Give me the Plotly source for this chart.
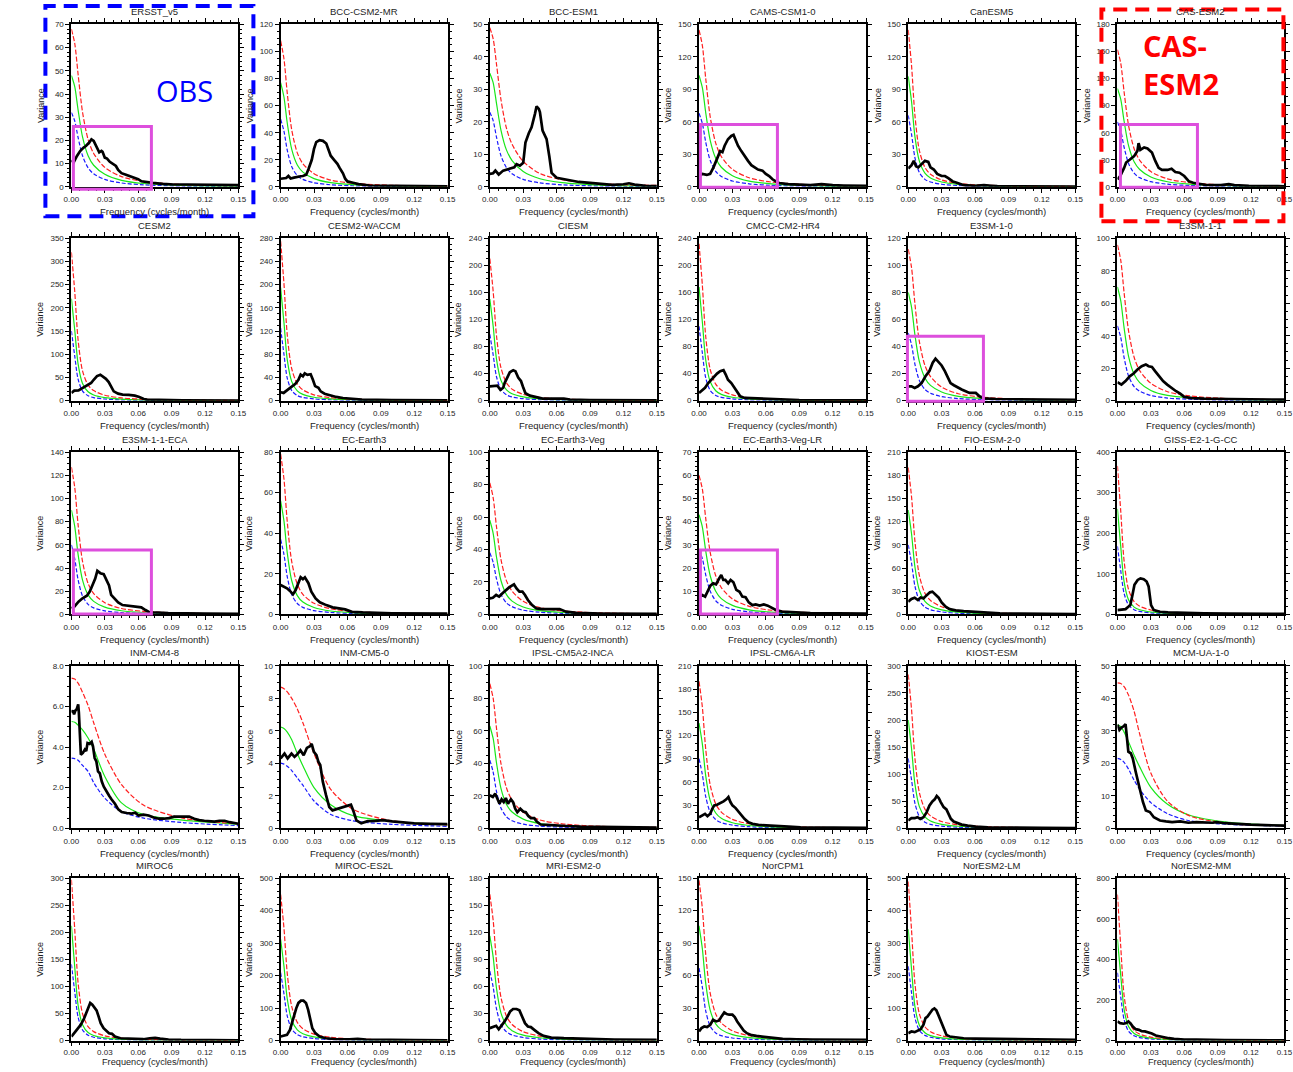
import plotly.graph_objects as go

W, H = 1293, 1072
# the page shows the figure with a small inset: page = offset + scale * figure pixel
OX, SX = 7.6, 0.9876
OY, SY = 4.5, 0.9925

# frequency grid (cycles/month) for the red-noise reference curves
FREQ_GRID = [0, 0.003, 0.006, 0.01, 0.015, 0.02, 0.03, 0.045, 0.065, 0.1, 0.15]

MODELS = [
    "ERSST_v5", "BCC-CSM2-MR", "BCC-ESM1", "CAMS-CSM1-0", "CanESM5", "CAS-ESM2",
    "CESM2", "CESM2-WACCM", "CIESM", "CMCC-CM2-HR4", "E3SM-1-0", "E3SM-1-1",
    "E3SM-1-1-ECA", "EC-Earth3", "EC-Earth3-Veg", "EC-Earth3-Veg-LR", "FIO-ESM-2-0", "GISS-E2-1-G-CC",
    "INM-CM4-8", "INM-CM5-0", "IPSL-CM5A2-INCA", "IPSL-CM6A-LR", "KIOST-ESM", "MCM-UA-1-0",
    "MIROC6", "MIROC-ES2L", "MRI-ESM2-0", "NorCPM1", "NorESM2-LM", "NorESM2-MM",
]
Y_MAX = [70, 120, 50, 150, 150, 180,
         350, 280, 240, 240, 120, 100,
         140, 80, 100, 70, 210, 400,
         8, 10, 100, 210, 300, 50,
         300, 500, 180, 150, 500, 800]
Y_STEP = [10, 20, 10, 30, 30, 30,
          50, 40, 40, 40, 20, 20,
          20, 20, 20, 10, 30, 100,
          2, 2, 20, 30, 50, 10,
          50, 100, 30, 30, 100, 200]
X_TICKS = [0.0, 0.03, 0.06, 0.09, 0.12, 0.15]

# ---- spectra (frequency, variance) and red-noise curves (red / green / blue) ----
SPEC_ERSST_V5 = [(0, 11.5), (0.002, 10.5), (0.005, 13.3), (0.008, 15.5), (0.011, 16.9), (0.013, 17.6), (0.016, 19.1), (0.018, 20.5), (0.02, 19.8), (0.022, 17.6), (0.025, 14.9), (0.027, 15.5), (0.028, 15.1), (0.03, 12.6), (0.032, 12.2), (0.0345, 10.8), (0.037, 9.9), (0.04, 9), (0.042, 7.3), (0.045, 5.9), (0.049, 5.2), (0.054, 4.4), (0.057, 4), (0.06, 3.3), (0.063, 2.4), (0.067, 2), (0.073, 1.7), (0.082, 1.3), (0.092, 1), (0.104, 1), (0.116, 0.86), (0.131, 0.72), (0.15, 0.7)]
RED_ERSST_V5 = [68, 61.8, 48.6, 32.2, 20.4, 14.4, 8.4, 4.4, 2.3, 0.97, 0.44]
GRN_ERSST_V5 = [48, 43.2, 33.2, 21.5, 13.4, 9.3, 5.4, 2.8, 1.44, 0.61, 0.28]
BLU_ERSST_V5 = [32, 28.4, 21.3, 13.4, 8.2, 5.6, 3.2, 1.66, 0.86, 0.37, 0.16]

SPEC_BCC_CSM2_MR = [(0, 6), (0.003, 6.3), (0.005, 6.5), (0.007, 8), (0.009, 6.2), (0.012, 6.8), (0.015, 7.5), (0.018, 7.8), (0.02, 8), (0.023, 9), (0.025, 13), (0.028, 20), (0.03, 28), (0.032, 33), (0.035, 34.5), (0.038, 34), (0.041, 32), (0.043, 28), (0.045, 23), (0.048, 20), (0.051, 17), (0.053, 14), (0.056, 10), (0.058, 6), (0.06, 4), (0.065, 3), (0.07, 2), (0.08, 1), (0.1, 0.7), (0.12, 0.5), (0.15, 0.4)]
RED_BCC_CSM2_MR = [108, 94.7, 69.1, 42.1, 25.1, 17.1, 9.7, 5.0, 2.6, 1.1, 0.49]
GRN_BCC_CSM2_MR = [77, 66.4, 47, 27.7, 16.2, 10.9, 6.1, 3.1, 1.6, 0.69, 0.31]
BLU_BCC_CSM2_MR = [50, 41.2, 27, 14.9, 8.3, 5.5, 3.0, 1.5, 0.79, 0.34, 0.15]

SPEC_BCC_ESM1 = [(0, 4), (0.003, 4.2), (0.005, 5), (0.008, 3.8), (0.012, 5), (0.018, 5.5), (0.022, 6), (0.024, 7), (0.027, 6.5), (0.03, 7.4), (0.032, 13.6), (0.035, 16.5), (0.0375, 18.3), (0.0405, 22.4), (0.042, 24.8), (0.044, 24), (0.045, 23), (0.0474, 17.3), (0.051, 14.7), (0.0534, 9.5), (0.0555, 4.3), (0.06, 2.8), (0.065, 2.5), (0.07, 2.2), (0.08, 1.5), (0.09, 1.2), (0.1, 0.8), (0.11, 0.6), (0.12, 0.8), (0.125, 1.1), (0.13, 0.7), (0.14, 0.3), (0.15, 0.2)]
RED_BCC_ESM1 = [49, 45.6, 37.8, 26.9, 18, 13.1, 7.8, 4.1, 2.2, 0.94, 0.42]
GRN_BCC_ESM1 = [35, 32.1, 25.7, 17.5, 11.3, 8.1, 4.7, 2.5, 1.3, 0.55, 0.25]
BLU_BCC_ESM1 = [23, 20.4, 15.3, 9.6, 5.9, 4.0, 2.3, 1.2, 0.62, 0.26, 0.12]

SPEC_CAMS_CSM1_0 = [(0, 10), (0.003, 12), (0.007, 11), (0.01, 12), (0.013, 18), (0.016, 26), (0.019, 33), (0.021, 32), (0.023, 38), (0.026, 44), (0.029, 47), (0.031, 48), (0.033, 42), (0.035, 38), (0.038, 33), (0.041, 28), (0.044, 24), (0.047, 20), (0.05, 18), (0.053, 16), (0.057, 15), (0.06, 12), (0.063, 10), (0.066, 7), (0.069, 5), (0.072, 3.5), (0.08, 2.5), (0.09, 2), (0.1, 1.5), (0.11, 2.5), (0.12, 1.5), (0.13, 1.2), (0.15, 1)]
RED_CAMS_CSM1_0 = [145, 130.5, 100.3, 65, 40.4, 28, 16.2, 8.4, 4.4, 1.9, 0.84]
GRN_CAMS_CSM1_0 = [103, 91.6, 68.7, 43.2, 26.3, 18.1, 10.3, 5.3, 2.8, 1.2, 0.53]
BLU_CAMS_CSM1_0 = [68, 58.6, 41.5, 24.5, 14.3, 9.6, 5.4, 2.8, 1.4, 0.61, 0.27]

SPEC_CANESM5 = [(0, 17), (0.003, 20), (0.005, 24), (0.007, 19), (0.009, 18), (0.012, 21), (0.015, 24), (0.018, 23), (0.02, 18), (0.023, 16), (0.026, 12), (0.03, 10), (0.033, 10), (0.036, 8), (0.04, 5), (0.043, 4), (0.047, 2.5), (0.05, 1.5), (0.06, 1), (0.068, 1.5), (0.075, 1), (0.08, 0.7), (0.1, 0.5), (0.15, 0.3)]
RED_CANESM5 = [145, 111.8, 66.3, 33.6, 18, 11.7, 6.4, 3.2, 1.65, 0.7, 0.3]
GRN_CANESM5 = [102, 78.6, 46.6, 23.7, 12.7, 8.2, 4.5, 2.3, 1.16, 0.49, 0.21]
BLU_CANESM5 = [66, 48.5, 27.1, 13.2, 6.9, 4.5, 2.4, 1.2, 0.62, 0.26, 0.12]

SPEC_CAS_ESM2 = [(0, 8.2), (0.0025, 12), (0.006, 21), (0.0078, 27), (0.011, 30), (0.015, 34), (0.018, 40), (0.019, 48.5), (0.0206, 41), (0.024, 43.7), (0.027, 42.6), (0.031, 38), (0.034, 28.7), (0.037, 21), (0.04, 18.7), (0.045, 18.7), (0.0486, 20), (0.052, 16.4), (0.0557, 15.7), (0.06, 12), (0.064, 6.3), (0.068, 4.5), (0.073, 3.4), (0.079, 2.2), (0.093, 1.9), (0.1, 3), (0.105, 1.9), (0.118, 1.1), (0.144, 0.7), (0.15, 0.6)]
RED_CAS_ESM2 = [152, 136.8, 105.2, 68.1, 42.3, 29.4, 16.9, 8.8, 4.6, 1.9, 0.88]
GRN_CAS_ESM2 = [109, 96.9, 72.7, 45.7, 27.8, 19.2, 10.9, 5.6, 2.9, 1.25, 0.56]
BLU_CAS_ESM2 = [72, 62.1, 43.9, 25.9, 15.1, 10.2, 5.7, 2.9, 1.5, 0.65, 0.29]

SPEC_CESM2 = [(0, 16.6), (0.0026, 21.6), (0.0064, 22), (0.01, 27), (0.014, 31), (0.0177, 38), (0.02, 45), (0.023, 53), (0.026, 56), (0.028, 53), (0.031, 47), (0.0335, 40), (0.036, 30), (0.038, 20), (0.042, 15), (0.046, 13), (0.0515, 12.3), (0.057, 10.8), (0.061, 8), (0.065, 3.6), (0.068, 2.2), (0.08, 1), (0.1, 0.6), (0.15, 0.3)]
RED_CESM2 = [320, 235.2, 131.2, 64, 33.6, 21.6, 11.7, 5.9, 3.0, 1.28, 0.58]
GRN_CESM2 = [220, 152.2, 79.2, 37, 19.1, 12.2, 6.5, 3.3, 1.7, 0.7, 0.31]
BLU_CESM2 = [150, 96, 46.2, 20.7, 10.5, 6.6, 3.5, 1.8, 0.92, 0.39, 0.17]

SPEC_CESM2_WACCM = [(0, 14.4), (0.0027, 13.3), (0.0065, 19), (0.01, 25), (0.0133, 29), (0.016, 36), (0.018, 45), (0.02, 42), (0.0217, 47), (0.024, 44.5), (0.027, 45.6), (0.029, 36), (0.031, 25), (0.034, 22), (0.036, 16), (0.0395, 12), (0.0445, 9), (0.05, 6.4), (0.056, 4.6), (0.06, 4), (0.065, 2.9), (0.073, 1.7), (0.1, 0.8), (0.15, 0.5)]
RED_CESM2_WACCM = [275, 202.1, 112.8, 55, 28.9, 18.6, 10, 5, 2.6, 1.1, 0.5]
GRN_CESM2_WACCM = [195, 134.9, 70.2, 32.8, 16.9, 10.8, 5.8, 2.9, 1.5, 0.62, 0.27]
BLU_CESM2_WACCM = [125, 80, 38.5, 17.3, 8.7, 5.5, 3.0, 1.5, 0.76, 0.33, 0.14]

SPEC_CIESM = [(0, 21), (0.0038, 21), (0.0068, 22), (0.0095, 16), (0.012, 19), (0.0133, 26), (0.016, 36), (0.018, 42), (0.021, 45), (0.023, 43.5), (0.0255, 34), (0.028, 29), (0.0297, 21), (0.032, 11), (0.036, 7.4), (0.042, 5), (0.0475, 3), (0.055, 3), (0.061, 3.5), (0.0665, 3), (0.072, 1.5), (0.09, 0.8), (0.15, 0.4)]
RED_CIESM = [210, 161.9, 96, 48.7, 26.1, 17, 9.2, 4.6, 2.4, 1.0, 0.44]
GRN_CIESM = [150, 110.3, 61.5, 30, 15.8, 10.1, 5.5, 2.7, 1.4, 0.6, 0.27]
BLU_CIESM = [98, 67.8, 35.3, 16.5, 8.5, 5.4, 2.9, 1.5, 0.75, 0.31, 0.14]

SPEC_CMCC_CM2_HR4 = [(0, 11.4), (0.0029, 15), (0.0054, 19), (0.0083, 26), (0.0112, 31), (0.0137, 36), (0.0162, 40), (0.019, 43.5), (0.022, 45), (0.024, 38.6), (0.026, 31), (0.029, 26), (0.032, 19), (0.0347, 11.4), (0.037, 6.4), (0.041, 4), (0.048, 3.5), (0.055, 3.5), (0.0625, 3), (0.07, 2), (0.09, 0.8), (0.15, 0.4)]
RED_CMCC_CM2_HR4 = [232, 170.5, 95.1, 46.4, 24.4, 15.7, 8.5, 4.2, 2.2, 0.93, 0.42]
GRN_CMCC_CM2_HR4 = [168, 116.3, 60.5, 28.2, 14.6, 9.3, 5.0, 2.5, 1.3, 0.54, 0.24]
BLU_CMCC_CM2_HR4 = [110, 70.4, 33.9, 15.2, 7.7, 4.9, 2.6, 1.3, 0.67, 0.29, 0.12]

SPEC_E3SM_1_0 = [(0, 10.6), (0.0029, 10.6), (0.0058, 9.4), (0.0087, 10.6), (0.012, 13), (0.0155, 18), (0.019, 21.8), (0.022, 28), (0.0245, 31), (0.0274, 28), (0.03, 26), (0.0329, 21.8), (0.0354, 18), (0.038, 13), (0.041, 11.4), (0.044, 9.9), (0.048, 8.2), (0.0516, 6.9), (0.055, 5.7), (0.0607, 5.7), (0.064, 3.2), (0.068, 1.7), (0.079, 1.2), (0.1, 1), (0.12, 0.7), (0.15, 0.5)]
RED_E3SM_1_0 = [112, 98.2, 71.7, 43.7, 26, 17.8, 10, 5.1, 2.7, 1.14, 0.5]
GRN_E3SM_1_0 = [80, 69, 48.8, 28.8, 16.8, 11.3, 6.4, 3.2, 1.7, 0.72, 0.32]
BLU_E3SM_1_0 = [50, 41.2, 27, 14.9, 8.3, 5.5, 3.0, 1.5, 0.79, 0.34, 0.15]

SPEC_E3SM_1_1 = [(0, 11.3), (0.0036, 9.9), (0.0073, 12), (0.011, 15), (0.0145, 16.7), (0.018, 19.2), (0.0218, 21.2), (0.0255, 22.3), (0.028, 21.2), (0.031, 20.8), (0.034, 18), (0.0375, 15), (0.041, 12), (0.0447, 9.9), (0.0484, 7.8), (0.0527, 5.8), (0.0564, 4.3), (0.06, 2.3), (0.067, 1.6), (0.078, 1.2), (0.1, 1), (0.12, 0.8), (0.15, 0.6)]
RED_E3SM_1_1 = [96, 86.4, 66.4, 43, 26.7, 18.5, 10.7, 5.5, 2.9, 1.23, 0.56]
GRN_E3SM_1_1 = [70, 61.4, 44.8, 27.3, 16.2, 11.1, 6.3, 3.2, 1.7, 0.71, 0.32]
BLU_E3SM_1_1 = [46, 38.9, 26.5, 15.1, 8.6, 5.8, 3.2, 1.6, 0.85, 0.36, 0.16]

SPEC_E3SM_1_1_ECA = [(0, 5.2), (0.0026, 6.7), (0.0064, 11), (0.01, 13.9), (0.0139, 16.2), (0.0165, 19.7), (0.0188, 25), (0.0214, 31), (0.0233, 37.6), (0.026, 35.6), (0.029, 34.7), (0.0316, 29.8), (0.0338, 25), (0.0357, 16.8), (0.0383, 13.9), (0.042, 10.4), (0.0459, 8.1), (0.0515, 7.5), (0.057, 7.2), (0.0628, 6.1), (0.0665, 3.8), (0.0703, 1.7), (0.078, 1.7), (0.087, 1.2), (0.12, 0.8), (0.15, 0.6)]
RED_E3SM_1_1_ECA = [127, 109.5, 77.5, 45.7, 26.7, 18, 10.1, 5.1, 2.7, 1.14, 0.51]
GRN_E3SM_1_1_ECA = [90, 76, 51.8, 29.6, 16.9, 11.3, 6.3, 3.2, 1.66, 0.7, 0.32]
BLU_E3SM_1_1_ECA = [60, 48, 30, 15.9, 8.7, 5.7, 3.1, 1.6, 0.8, 0.35, 0.16]

SPEC_EC_EARTH3 = [(0, 14.5), (0.0027, 13.7), (0.0057, 12.9), (0.0084, 11.6), (0.0111, 9.9), (0.0134, 11.9), (0.0161, 16.2), (0.018, 18.3), (0.02, 17.4), (0.0218, 18.3), (0.025, 15.4), (0.0276, 11.2), (0.0314, 7.9), (0.0352, 6), (0.041, 4.6), (0.0467, 3.5), (0.0525, 3), (0.058, 2.5), (0.064, 1.3), (0.0736, 1), (0.1, 0.6), (0.15, 0.4)]
RED_EC_EARTH3 = [79, 66.8, 45.5, 26, 14.9, 9.9, 5.5, 2.8, 1.45, 0.62, 0.28]
GRN_EC_EARTH3 = [56, 46.1, 30.2, 16.6, 9.3, 6.1, 3.4, 1.7, 0.88, 0.38, 0.17]
BLU_EC_EARTH3 = [37, 29.6, 18.5, 9.8, 5.4, 3.5, 1.9, 0.97, 0.5, 0.21, 0.1]

SPEC_EC_EARTH3_VEG = [(0, 9.9), (0.0027, 10.3), (0.0057, 12), (0.0084, 11), (0.0114, 13), (0.0144, 15), (0.0171, 16.5), (0.0198, 17.8), (0.0217, 18.6), (0.024, 16), (0.0266, 14), (0.0293, 14), (0.0316, 12), (0.0342, 8.9), (0.038, 5.8), (0.0418, 3.7), (0.0475, 3.3), (0.0551, 3.3), (0.0627, 3.3), (0.0684, 1.7), (0.078, 1), (0.1, 0.6), (0.15, 0.4)]
RED_EC_EARTH3_VEG = [81, 72, 54, 33.9, 20.7, 14.3, 8.1, 4.2, 2.2, 0.93, 0.41]
GRN_EC_EARTH3_VEG = [58, 50, 35.4, 20.9, 12.2, 8.2, 4.6, 2.3, 1.2, 0.52, 0.23]
BLU_EC_EARTH3_VEG = [38, 32.1, 21.9, 12.5, 7.1, 4.8, 2.6, 1.35, 0.7, 0.3, 0.13]

SPEC_EC_EARTH3_VEG_LR = [(0, 7.7), (0.0029, 8.4), (0.0055, 7.7), (0.0073, 9.8), (0.0102, 12.4), (0.0127, 13.4), (0.0153, 13), (0.0182, 15.6), (0.02, 17), (0.0218, 14.9), (0.0236, 14.9), (0.0262, 13.4), (0.0284, 14.9), (0.0309, 13.9), (0.0335, 10.6), (0.0364, 9.8), (0.0389, 7.7), (0.0418, 7.4), (0.0447, 5.2), (0.048, 4), (0.0509, 4.3), (0.0545, 3.8), (0.0582, 4.3), (0.0618, 3.8), (0.0655, 2.9), (0.069, 1.9), (0.0745, 1.2), (0.1, 0.6), (0.15, 0.4)]
RED_EC_EARTH3_VEG_LR = [60, 54, 41.5, 26.9, 16.7, 11.6, 6.7, 3.5, 1.8, 0.77, 0.35]
GRN_EC_EARTH3_VEG_LR = [43, 37.7, 27.5, 16.8, 10, 6.8, 3.9, 2.0, 1.0, 0.44, 0.19]
BLU_EC_EARTH3_VEG_LR = [28, 24.1, 17.1, 10.1, 5.9, 4.0, 2.2, 1.1, 0.59, 0.25, 0.11]

SPEC_FIO_ESM_2_0 = [(0, 16.5), (0.0029, 20), (0.0058, 21.7), (0.0087, 18.7), (0.0112, 22), (0.0137, 20.8), (0.0166, 25), (0.0195, 28.6), (0.0217, 29.5), (0.0245, 25), (0.0274, 21.7), (0.03, 15.6), (0.0336, 10), (0.0372, 6.9), (0.0426, 5.2), (0.0498, 4.3), (0.057, 3.5), (0.0643, 2.6), (0.0715, 2.2), (0.0823, 1.3), (0.1, 1), (0.15, 0.6)]
RED_FIO_ESM_2_0 = [190, 152, 95, 50.4, 27.5, 18.1, 9.9, 5.0, 2.5, 1.1, 0.49]
GRN_FIO_ESM_2_0 = [135, 104.1, 61.7, 31.3, 16.8, 10.9, 5.9, 3.0, 1.5, 0.65, 0.28]
BLU_FIO_ESM_2_0 = [90, 66.2, 36.9, 18, 9.5, 6.1, 3.3, 1.6, 0.85, 0.36, 0.16]

SPEC_GISS_E2_1_G_CC = [(0, 10.7), (0.0036, 12.4), (0.0073, 13.2), (0.0098, 19), (0.0116, 23), (0.0135, 48), (0.0153, 73), (0.0182, 85), (0.0207, 89), (0.0236, 87), (0.0262, 81), (0.028, 69), (0.029, 48), (0.0302, 23), (0.0327, 10.7), (0.0382, 6.6), (0.0455, 5), (0.06, 3.3), (0.078, 2.5), (0.1, 2), (0.15, 1.2)]
RED_GISS_E2_1_G_CC = [366, 253.3, 131.8, 61.5, 31.7, 20.3, 10.9, 5.5, 2.8, 1.17, 0.51]
GRN_GISS_E2_1_G_CC = [260, 166.4, 80.1, 35.9, 18.1, 11.5, 6.1, 3.0, 1.6, 0.68, 0.29]
BLU_GISS_E2_1_G_CC = [168, 107.5, 51.7, 23.2, 11.7, 7.4, 4.0, 2.0, 1.0, 0.44, 0.18]

SPEC_INM_CM4_8 = [(0, 5.7), (0.0012, 5.8), (0.0024, 5.62), (0.0036, 5.8), (0.0048, 5.87), (0.0061, 6.1), (0.0067, 5.7), (0.0079, 4.63), (0.0085, 3.63), (0.0103, 3.71), (0.0121, 3.88), (0.0133, 3.8), (0.0145, 4.2), (0.0164, 4.16), (0.0182, 4.26), (0.0194, 4.04), (0.0209, 3.46), (0.0224, 3.3), (0.0239, 2.8), (0.0255, 2.71), (0.0273, 2.3), (0.0291, 2.05), (0.0315, 1.8), (0.0339, 1.6), (0.036, 1.43), (0.0391, 1.21), (0.0421, 0.93), (0.0452, 0.8), (0.0497, 0.75), (0.0542, 0.72), (0.0573, 0.77), (0.0603, 0.63), (0.0648, 0.67), (0.0694, 0.63), (0.0739, 0.53), (0.0785, 0.47), (0.083, 0.47), (0.0876, 0.5), (0.0921, 0.57), (0.0967, 0.57), (0.1012, 0.6), (0.1058, 0.58), (0.1103, 0.47), (0.1148, 0.4), (0.1194, 0.37), (0.124, 0.35), (0.1285, 0.33), (0.133, 0.37), (0.1376, 0.37), (0.142, 0.3), (0.1467, 0.25), (0.15, 0.22)]
RED_INM_CM4_8 = [7.4, 7.35, 7.15, 6.7, 6.05, 5.2, 3.65, 2.15, 1.13, 0.5, 0.22]
GRN_INM_CM4_8 = [5.26, 5.22, 5.08, 4.85, 4.45, 3.9, 2.55, 1.25, 0.67, 0.4, 0.2]
BLU_INM_CM4_8 = [3.46, 3.43, 3.35, 3.1, 2.8, 2.25, 1.48, 0.82, 0.5, 0.28, 0.13]

SPEC_INM_CM5_0 = [(0, 4.3), (0.0035, 4.6), (0.0063, 4.3), (0.0098, 4.6), (0.0125, 4.4), (0.0149, 4.55), (0.0178, 4.8), (0.0207, 4.5), (0.0236, 4.95), (0.0264, 5.05), (0.0279, 5.2), (0.0299, 4.7), (0.0322, 4.5), (0.0339, 4.1), (0.0356, 3.9), (0.0379, 2.87), (0.0408, 2.04), (0.0437, 1.31), (0.0466, 1.1), (0.0509, 1.2), (0.0552, 1.3), (0.0595, 1.37), (0.0632, 1.45), (0.0652, 1.1), (0.0681, 0.48), (0.0724, 0.3), (0.0782, 0.44), (0.085, 0.45), (0.092, 0.5), (0.1, 0.42), (0.11, 0.35), (0.12, 0.3), (0.135, 0.27), (0.15, 0.25)]
RED_INM_CM5_0 = [8.69, 8.6, 8.4, 8.0, 7.35, 6.5, 4.6, 2.4, 1.17, 0.46, 0.21]
GRN_INM_CM5_0 = [6.24, 6.15, 5.92, 5.45, 4.6, 3.85, 2.5, 1.45, 0.78, 0.43, 0.21]
BLU_INM_CM5_0 = [4.01, 3.95, 3.82, 3.55, 3.1, 2.65, 1.68, 0.85, 0.46, 0.24, 0.12]

SPEC_IPSL_CM5A2_INCA = [(0, 20.3), (0.0027, 19.3), (0.0049, 21.3), (0.0068, 18.2), (0.0087, 15.1), (0.0106, 17.8), (0.0125, 16.1), (0.0144, 18.6), (0.0163, 15.1), (0.019, 17.8), (0.0209, 16.1), (0.0228, 12), (0.0247, 9.9), (0.0274, 12), (0.03, 10.3), (0.0323, 9.9), (0.0346, 7.5), (0.0369, 6.2), (0.0399, 6.2), (0.0422, 4.1), (0.0456, 2.3), (0.0513, 2.1), (0.0589, 1.7), (0.0684, 1.4), (0.0817, 1), (0.1, 0.8), (0.15, 0.4)]
RED_IPSL_CM5A2_INCA = [89, 80.1, 61.6, 39.9, 24.8, 17.2, 9.9, 5.1, 2.7, 1.14, 0.52]
GRN_IPSL_CM5A2_INCA = [63, 55.3, 40.3, 24.6, 14.6, 10, 5.6, 2.9, 1.5, 0.64, 0.28]
BLU_IPSL_CM5A2_INCA = [42, 34.6, 22.7, 12.5, 7.0, 4.6, 2.5, 1.3, 0.66, 0.28, 0.13]

SPEC_IPSL_CM6A_LR = [(0, 14.3), (0.0029, 16.5), (0.0054, 18.7), (0.0076, 15.7), (0.0101, 18.7), (0.0119, 25.2), (0.0137, 29.6), (0.0162, 30.4), (0.0191, 32.2), (0.022, 34.8), (0.0245, 37.4), (0.0264, 40.4), (0.0282, 33.9), (0.03, 29.6), (0.0329, 26.1), (0.0354, 21.7), (0.0383, 17.4), (0.0408, 12.2), (0.0444, 7.8), (0.048, 5.7), (0.0534, 4.3), (0.0606, 3.5), (0.0697, 2.6), (0.0805, 2.2), (0.0913, 1.3), (0.12, 0.8), (0.15, 0.5)]
RED_IPSL_CM6A_LR = [190, 156.6, 102.6, 56.4, 31.5, 20.9, 11.5, 5.8, 3.0, 1.27, 0.57]
GRN_IPSL_CM6A_LR = [136, 108.8, 68, 36, 19.7, 12.9, 7.1, 3.6, 1.8, 0.79, 0.35]
BLU_IPSL_CM6A_LR = [90, 69.4, 41.1, 20.9, 11.2, 7.3, 4.0, 2.0, 1.0, 0.43, 0.19]

SPEC_KIOST_ESM = [(0, 14.3), (0.0029, 18.6), (0.0058, 18.6), (0.0083, 20.5), (0.0108, 17.4), (0.0137, 20.5), (0.0166, 29.8), (0.0191, 42.2), (0.0217, 49.7), (0.0238, 53.4), (0.0256, 59.6), (0.0274, 55.9), (0.0292, 48.4), (0.0318, 39.1), (0.0343, 34.8), (0.0365, 26.7), (0.0383, 17.4), (0.0408, 12.4), (0.0444, 9.3), (0.048, 6.8), (0.0534, 5), (0.0606, 3.1), (0.0715, 1.9), (0.086, 1.2), (0.12, 0.7), (0.15, 0.5)]
RED_KIOST_ESM = [284, 219, 129.8, 65.9, 35.3, 22.9, 12.5, 6.3, 3.2, 1.36, 0.6]
GRN_KIOST_ESM = [200, 147, 82, 40, 21, 13.5, 7.3, 3.7, 1.9, 0.8, 0.36]
BLU_KIOST_ESM = [129, 89.3, 46.4, 21.7, 11.2, 7.1, 3.8, 1.9, 1.0, 0.41, 0.18]

SPEC_MCM_UA_1_0 = [(0, 31.9), (0.0018, 30.3), (0.0036, 31), (0.0055, 31.4), (0.0073, 32.1), (0.0084, 27.7), (0.0098, 23.6), (0.012, 23.1), (0.0138, 21.5), (0.0164, 17.4), (0.0185, 14.3), (0.0207, 11.2), (0.0229, 8.1), (0.0255, 5.5), (0.0291, 5), (0.0327, 3.4), (0.0382, 2.4), (0.0436, 2.1), (0.0491, 1.9), (0.0564, 2.1), (0.0636, 1.7), (0.0709, 1.9), (0.0782, 1.7), (0.0855, 1.7), (0.0891, 1.9), (0.0964, 1.55), (0.1036, 1.45), (0.12, 1.1), (0.15, 0.8)]
RED_MCM_UA_1_0 = [44.8, 44.6, 43.6, 41, 36, 29, 17, 8.3, 3.8, 1.5, 0.8]
GRN_MCM_UA_1_0 = [31.9, 31.3, 29.6, 26.6, 22.5, 18.9, 12.6, 7.4, 4, 1.8, 0.8]
BLU_MCM_UA_1_0 = [21.5, 21.2, 20.3, 18.2, 14.8, 12, 7.9, 4.5, 2.3, 1.2, 0.7]

SPEC_MIROC6 = [(0, 7.4), (0.0026, 13.6), (0.0053, 21), (0.0083, 29), (0.0109, 38.4), (0.0132, 50.8), (0.015, 62), (0.0169, 69.4), (0.0188, 66.3), (0.0207, 62), (0.0226, 55.8), (0.0244, 44.6), (0.0263, 32.2), (0.0289, 22.9), (0.0316, 18.6), (0.0338, 13.6), (0.0365, 12.4), (0.0391, 7.4), (0.044, 4.3), (0.0496, 3.7), (0.0571, 3.1), (0.0647, 2.5), (0.0703, 4.3), (0.0752, 5), (0.0797, 3.7), (0.0872, 1.9), (0.0985, 1.2), (0.12, 0.8), (0.15, 0.5)]
RED_MIROC6 = [297, 205.5, 106.9, 49.9, 25.7, 16.5, 8.8, 4.4, 2.3, 0.95, 0.42]
GRN_MIROC6 = [212, 135.7, 65.3, 29.3, 14.8, 9.4, 5.0, 2.5, 1.3, 0.55, 0.23]
BLU_MIROC6 = [141, 90.2, 43.4, 19.5, 9.8, 6.2, 3.3, 1.65, 0.86, 0.37, 0.16]

SPEC_MIROC_ES2L = [(0, 12.4), (0.0027, 14.5), (0.0057, 17.6), (0.0084, 33), (0.0106, 59), (0.0122, 85), (0.0141, 100), (0.016, 116), (0.0183, 123), (0.0205, 123), (0.0228, 116), (0.0247, 95), (0.0266, 64), (0.0285, 38), (0.0312, 23), (0.035, 12.4), (0.0407, 7.2), (0.0502, 4.1), (0.0616, 4.1), (0.0692, 5.2), (0.0768, 3.1), (0.0882, 2), (0.12, 1.2), (0.15, 0.8)]
RED_MIROC_ES2L = [450, 347, 205.7, 104.4, 56, 36.4, 19.8, 9.9, 5.1, 2.2, 0.95]
GRN_MIROC_ES2L = [312, 229.3, 127.9, 62.4, 32.8, 21.1, 11.4, 5.7, 2.9, 1.25, 0.56]
BLU_MIROC_ES2L = [209, 144.6, 75.2, 35.1, 18.1, 11.6, 6.2, 3.1, 1.6, 0.67, 0.29]

SPEC_MRI_ESM2_0 = [(0, 13.8), (0.0027, 14.9), (0.0057, 16.4), (0.008, 12.6), (0.0106, 16.4), (0.0133, 21.2), (0.016, 26.8), (0.0183, 32.4), (0.0209, 35), (0.024, 35), (0.0266, 33.5), (0.0293, 26.8), (0.0316, 19.3), (0.0342, 15.6), (0.0369, 14.9), (0.0399, 11.9), (0.0437, 8.2), (0.0483, 5.2), (0.0551, 3.3), (0.0665, 2.6), (0.0817, 1.9), (0.097, 1.9), (0.112, 1.1), (0.15, 0.7)]
RED_MRI_ESM2_0 = [162, 133.5, 87.5, 48.1, 26.9, 17.8, 9.8, 5.0, 2.6, 1.09, 0.49]
GRN_MRI_ESM2_0 = [116, 92.8, 58, 30.7, 16.8, 11, 6.0, 3.1, 1.55, 0.67, 0.3]
BLU_MRI_ESM2_0 = [77, 59.4, 35.2, 17.9, 9.6, 6.2, 3.4, 1.7, 0.88, 0.37, 0.16]

SPEC_NORCPM1 = [(0, 8.4), (0.0022, 11.5), (0.0047, 13), (0.0072, 12.4), (0.0101, 14.6), (0.0126, 19.2), (0.0155, 17.7), (0.0181, 18.6), (0.0202, 22.3), (0.0227, 26), (0.0249, 24.5), (0.0271, 23.9), (0.03, 23.9), (0.0321, 21.7), (0.0343, 17.7), (0.0372, 13), (0.0401, 9.3), (0.043, 6.8), (0.0473, 5), (0.0516, 4.3), (0.057, 3.7), (0.0625, 2.8), (0.0679, 2.2), (0.0751, 1.5), (0.0877, 1.2), (0.102, 0.9), (0.15, 0.6)]
RED_NORCPM1 = [148, 122, 79.9, 44, 24.6, 16.3, 9.0, 4.5, 2.3, 0.99, 0.44]
GRN_NORCPM1 = [106, 84.8, 53, 28.1, 15.4, 10.1, 5.5, 2.8, 1.4, 0.61, 0.28]
BLU_NORCPM1 = [67, 49.2, 27.5, 13.4, 7.0, 4.5, 2.4, 1.2, 0.63, 0.27, 0.12]

SPEC_NORESM2_LM = [(0, 22.7), (0.0029, 27.9), (0.0058, 25.8), (0.0087, 31), (0.0112, 35), (0.0137, 48.6), (0.0155, 69), (0.0173, 74), (0.0195, 85), (0.0217, 95), (0.0235, 99), (0.0253, 93), (0.0274, 76), (0.0296, 59), (0.0318, 38), (0.0343, 17.6), (0.0372, 12.4), (0.0426, 9.3), (0.0498, 7.2), (0.0606, 6.2), (0.0751, 5.2), (0.0931, 4.1), (0.115, 3.1), (0.15, 2)]
RED_NORESM2_LM = [490, 339.1, 176.4, 82.3, 42.5, 27.1, 14.6, 7.3, 3.8, 1.57, 0.69]
GRN_NORESM2_LM = [343, 219.5, 105.6, 47.3, 23.9, 15.2, 8.1, 4.0, 2.1, 0.89, 0.38]
BLU_NORESM2_LM = [229, 146.6, 70.5, 31.6, 16, 10.1, 5.4, 2.7, 1.4, 0.6, 0.25]

SPEC_NORESM2_MM = [(0, 94), (0.0025, 86), (0.0055, 83), (0.008, 86), (0.0098, 94), (0.0116, 86), (0.0138, 69), (0.0164, 56), (0.0193, 53), (0.0218, 46), (0.0247, 45), (0.028, 41), (0.0309, 35), (0.0345, 25), (0.0382, 20), (0.0418, 15), (0.0462, 11.6), (0.0509, 8.3), (0.06, 5), (0.0709, 5), (0.0818, 3.3), (0.0964, 1.7), (0.15, 1)]
RED_NORESM2_MM = [720, 460.8, 221.8, 99.4, 50.2, 31.9, 17, 8.4, 4.4, 1.9, 0.8]
GRN_NORESM2_MM = [500, 320, 154, 69, 34.9, 22.2, 11.8, 5.9, 3.1, 1.3, 0.55]
BLU_NORESM2_MM = [334, 213.8, 102.9, 46.1, 23.3, 14.8, 7.9, 3.9, 2.0, 0.87, 0.37]

SPECTRA = [SPEC_ERSST_V5, SPEC_BCC_CSM2_MR, SPEC_BCC_ESM1, SPEC_CAMS_CSM1_0, SPEC_CANESM5, SPEC_CAS_ESM2,
           SPEC_CESM2, SPEC_CESM2_WACCM, SPEC_CIESM, SPEC_CMCC_CM2_HR4, SPEC_E3SM_1_0, SPEC_E3SM_1_1,
           SPEC_E3SM_1_1_ECA, SPEC_EC_EARTH3, SPEC_EC_EARTH3_VEG, SPEC_EC_EARTH3_VEG_LR, SPEC_FIO_ESM_2_0, SPEC_GISS_E2_1_G_CC,
           SPEC_INM_CM4_8, SPEC_INM_CM5_0, SPEC_IPSL_CM5A2_INCA, SPEC_IPSL_CM6A_LR, SPEC_KIOST_ESM, SPEC_MCM_UA_1_0,
           SPEC_MIROC6, SPEC_MIROC_ES2L, SPEC_MRI_ESM2_0, SPEC_NORCPM1, SPEC_NORESM2_LM, SPEC_NORESM2_MM]
RED = [RED_ERSST_V5, RED_BCC_CSM2_MR, RED_BCC_ESM1, RED_CAMS_CSM1_0, RED_CANESM5, RED_CAS_ESM2,
       RED_CESM2, RED_CESM2_WACCM, RED_CIESM, RED_CMCC_CM2_HR4, RED_E3SM_1_0, RED_E3SM_1_1,
       RED_E3SM_1_1_ECA, RED_EC_EARTH3, RED_EC_EARTH3_VEG, RED_EC_EARTH3_VEG_LR, RED_FIO_ESM_2_0, RED_GISS_E2_1_G_CC,
       RED_INM_CM4_8, RED_INM_CM5_0, RED_IPSL_CM5A2_INCA, RED_IPSL_CM6A_LR, RED_KIOST_ESM, RED_MCM_UA_1_0,
       RED_MIROC6, RED_MIROC_ES2L, RED_MRI_ESM2_0, RED_NORCPM1, RED_NORESM2_LM, RED_NORESM2_MM]
GRN = [GRN_ERSST_V5, GRN_BCC_CSM2_MR, GRN_BCC_ESM1, GRN_CAMS_CSM1_0, GRN_CANESM5, GRN_CAS_ESM2,
       GRN_CESM2, GRN_CESM2_WACCM, GRN_CIESM, GRN_CMCC_CM2_HR4, GRN_E3SM_1_0, GRN_E3SM_1_1,
       GRN_E3SM_1_1_ECA, GRN_EC_EARTH3, GRN_EC_EARTH3_VEG, GRN_EC_EARTH3_VEG_LR, GRN_FIO_ESM_2_0, GRN_GISS_E2_1_G_CC,
       GRN_INM_CM4_8, GRN_INM_CM5_0, GRN_IPSL_CM5A2_INCA, GRN_IPSL_CM6A_LR, GRN_KIOST_ESM, GRN_MCM_UA_1_0,
       GRN_MIROC6, GRN_MIROC_ES2L, GRN_MRI_ESM2_0, GRN_NORCPM1, GRN_NORESM2_LM, GRN_NORESM2_MM]
BLU = [BLU_ERSST_V5, BLU_BCC_CSM2_MR, BLU_BCC_ESM1, BLU_CAMS_CSM1_0, BLU_CANESM5, BLU_CAS_ESM2,
       BLU_CESM2, BLU_CESM2_WACCM, BLU_CIESM, BLU_CMCC_CM2_HR4, BLU_E3SM_1_0, BLU_E3SM_1_1,
       BLU_E3SM_1_1_ECA, BLU_EC_EARTH3, BLU_EC_EARTH3_VEG, BLU_EC_EARTH3_VEG_LR, BLU_FIO_ESM_2_0, BLU_GISS_E2_1_G_CC,
       BLU_INM_CM4_8, BLU_INM_CM5_0, BLU_IPSL_CM5A2_INCA, BLU_IPSL_CM6A_LR, BLU_KIOST_ESM, BLU_MCM_UA_1_0,
       BLU_MIROC6, BLU_MIROC_ES2L, BLU_MRI_ESM2_0, BLU_NORCPM1, BLU_NORESM2_LM, BLU_NORESM2_MM]

# ---- page geometry (page pixels) ----
COL_LEFT = [71, 280.2, 489.4, 698.6, 907.8, 1117]
ROW_TOP = [25, 239, 453, 667, 879.5]
PW, PH = 167, 162.5
FONT = "Liberation Sans, Arial, Helvetica, sans-serif"
TXT = "#1e1e1e"
MINOR = {2: 0.5, 10: 2, 20: 5, 30: 10, 40: 10, 50: 10, 100: 20, 200: 50}
LOWEST_TEXT_Y = 1063.5


def px(x):
    """page pixel column -> paper fraction"""
    return (x - OX) / SX / W


def py(y):
    """page pixel row -> paper fraction"""
    return 1 - (y - OY) / SY / H


fig = go.Figure()
layout_axes = {}
annotations = []

for i, name in enumerate(MODELS):
    r, c = divmod(i, 6)
    k = i + 1
    xref = "x" if k == 1 else f"x{k}"
    yref = "y" if k == 1 else f"y{k}"
    left, top = COL_LEFT[c], ROW_TOP[r]
    bottom_row = r == len(ROW_TOP) - 1

    common = dict(xaxis=xref, yaxis=yref, mode="lines", hoverinfo="skip", showlegend=False)
    fig.add_trace(go.Scatter(x=FREQ_GRID, y=BLU[i], line=dict(color="#1a1aff", width=1.2, dash="4px,2px",
                                                              shape="spline", smoothing=0.8), **common))
    fig.add_trace(go.Scatter(x=FREQ_GRID, y=GRN[i], line=dict(color="#19e619", width=1.2,
                                                              shape="spline", smoothing=0.8), **common))
    fig.add_trace(go.Scatter(x=FREQ_GRID, y=RED[i], line=dict(color="#ff2020", width=1.2, dash="5px,2px",
                                                              shape="spline", smoothing=0.8), **common))
    fig.add_trace(go.Scatter(x=[p[0] for p in SPECTRA[i]], y=[p[1] for p in SPECTRA[i]],
                             line=dict(color="black", width=2.7), **common))

    axis_style = dict(showline=True, linewidth=2, linecolor="black", mirror="ticks",
                      ticks="outside", tickwidth=1.3, tickcolor="black",
                      showgrid=False, zeroline=False,
                      tickfont=dict(family=FONT, size=8, color=TXT))
    layout_axes["xaxis" if k == 1 else f"xaxis{k}"] = dict(
        domain=[px(left), px(left + PW)], anchor=yref, range=[0, 0.15],
        tickmode="array", tickvals=X_TICKS, ticktext=[f"{v:.2f}" for v in X_TICKS],
        ticklen=3 if bottom_row else 4,
        minor=dict(dtick=0.0075, tick0=0, ticks="outside", ticklen=2, tickwidth=1, tickcolor="black", showgrid=False),
        **axis_style)
    step = Y_STEP[i]
    yvals = [step * j for j in range(int(round(Y_MAX[i] / step)) + 1)]
    ytext = [f"{v:.1f}" for v in yvals] if name == "INM-CM4-8" else [f"{v:g}" for v in yvals]
    layout_axes["yaxis" if k == 1 else f"yaxis{k}"] = dict(
        domain=[py(top + PH), py(top)], anchor=xref, range=[0, Y_MAX[i]],
        tickmode="array", tickvals=yvals, ticktext=ytext, ticklen=4,
        minor=dict(dtick=MINOR[step], tick0=0, ticks="outside", ticklen=2, tickwidth=1, tickcolor="black", showgrid=False),
        **axis_style)

    annotations.append(dict(x=px(left + PW / 2), y=py(top - 13), xref="paper", yref="paper", text=name,
                            showarrow=False, xanchor="center", yanchor="middle",
                            font=dict(family=FONT, size=9.5, color=TXT)))
    annotations.append(dict(x=px(left + PW / 2), y=py(min(top + PH + 25, LOWEST_TEXT_Y)), xref="paper",
                            yref="paper", text="Frequency (cycles/month)", showarrow=False,
                            xanchor="center", yanchor="middle",
                            font=dict(family=FONT, size=9.2 if bottom_row else 9.5, color=TXT)))
    annotations.append(dict(x=px(left - 31), y=py(top + PH / 2), xref="paper", yref="paper", text="Variance",
                            textangle=-90, showarrow=False, xanchor="center", yanchor="middle",
                            font=dict(family=FONT, size=9, color=TXT)))

# highlight labels
annotations.append(dict(x=px(184), y=py(91), xref="paper", yref="paper", text="OBS", showarrow=False,
                        xanchor="center", yanchor="middle",
                        font=dict(family="Open Sans, Noto Sans, sans-serif", size=29, color="#0000ff")))
annotations.append(dict(x=px(1141), y=py(65), xref="paper", yref="paper", text="<b>CAS-<br>ESM2</b>",
                        showarrow=False, xanchor="left", yanchor="middle", align="left",
                        font=dict(family="Open Sans, Noto Sans, sans-serif", size=29, color="#ff0000")))


def rect(x0, y0, x1, y1, **kw):
    return dict(type="rect", xref="paper", yref="paper", x0=px(x0), x1=px(x1), y0=py(y1), y1=py(y0), **kw)


shapes = [
    # observation / CAS-ESM2 frames
    rect(45, 6.5, 253, 217, line=dict(color="#0000ff", width=4, dash="14px,8px"), layer="above"),
    rect(1101, 10, 1283, 222, line=dict(color="#ff0000", width=4, dash="14px,8px"), layer="above"),
]
# boxes around the 0-0.07 cycles/month band
for x0, y0, x1, y1 in [(73, 127, 151, 190), (700, 125, 777, 188), (1120, 125, 1197, 188),
                       (907, 337, 983, 402), (73, 551, 151, 615), (700, 551, 777, 615)]:
    shapes.append(rect(x0, y0, x1, y1, line=dict(color="#dd4fdd", width=3), layer="above"))

fig.update_layout(
    width=W, height=H, margin=dict(l=0, r=0, t=0, b=0),
    paper_bgcolor="white", plot_bgcolor="white",
    font=dict(family=FONT, color=TXT),
    showlegend=False, annotations=annotations, shapes=shapes,
    **layout_axes,
)

fig.write_html("out.html")
